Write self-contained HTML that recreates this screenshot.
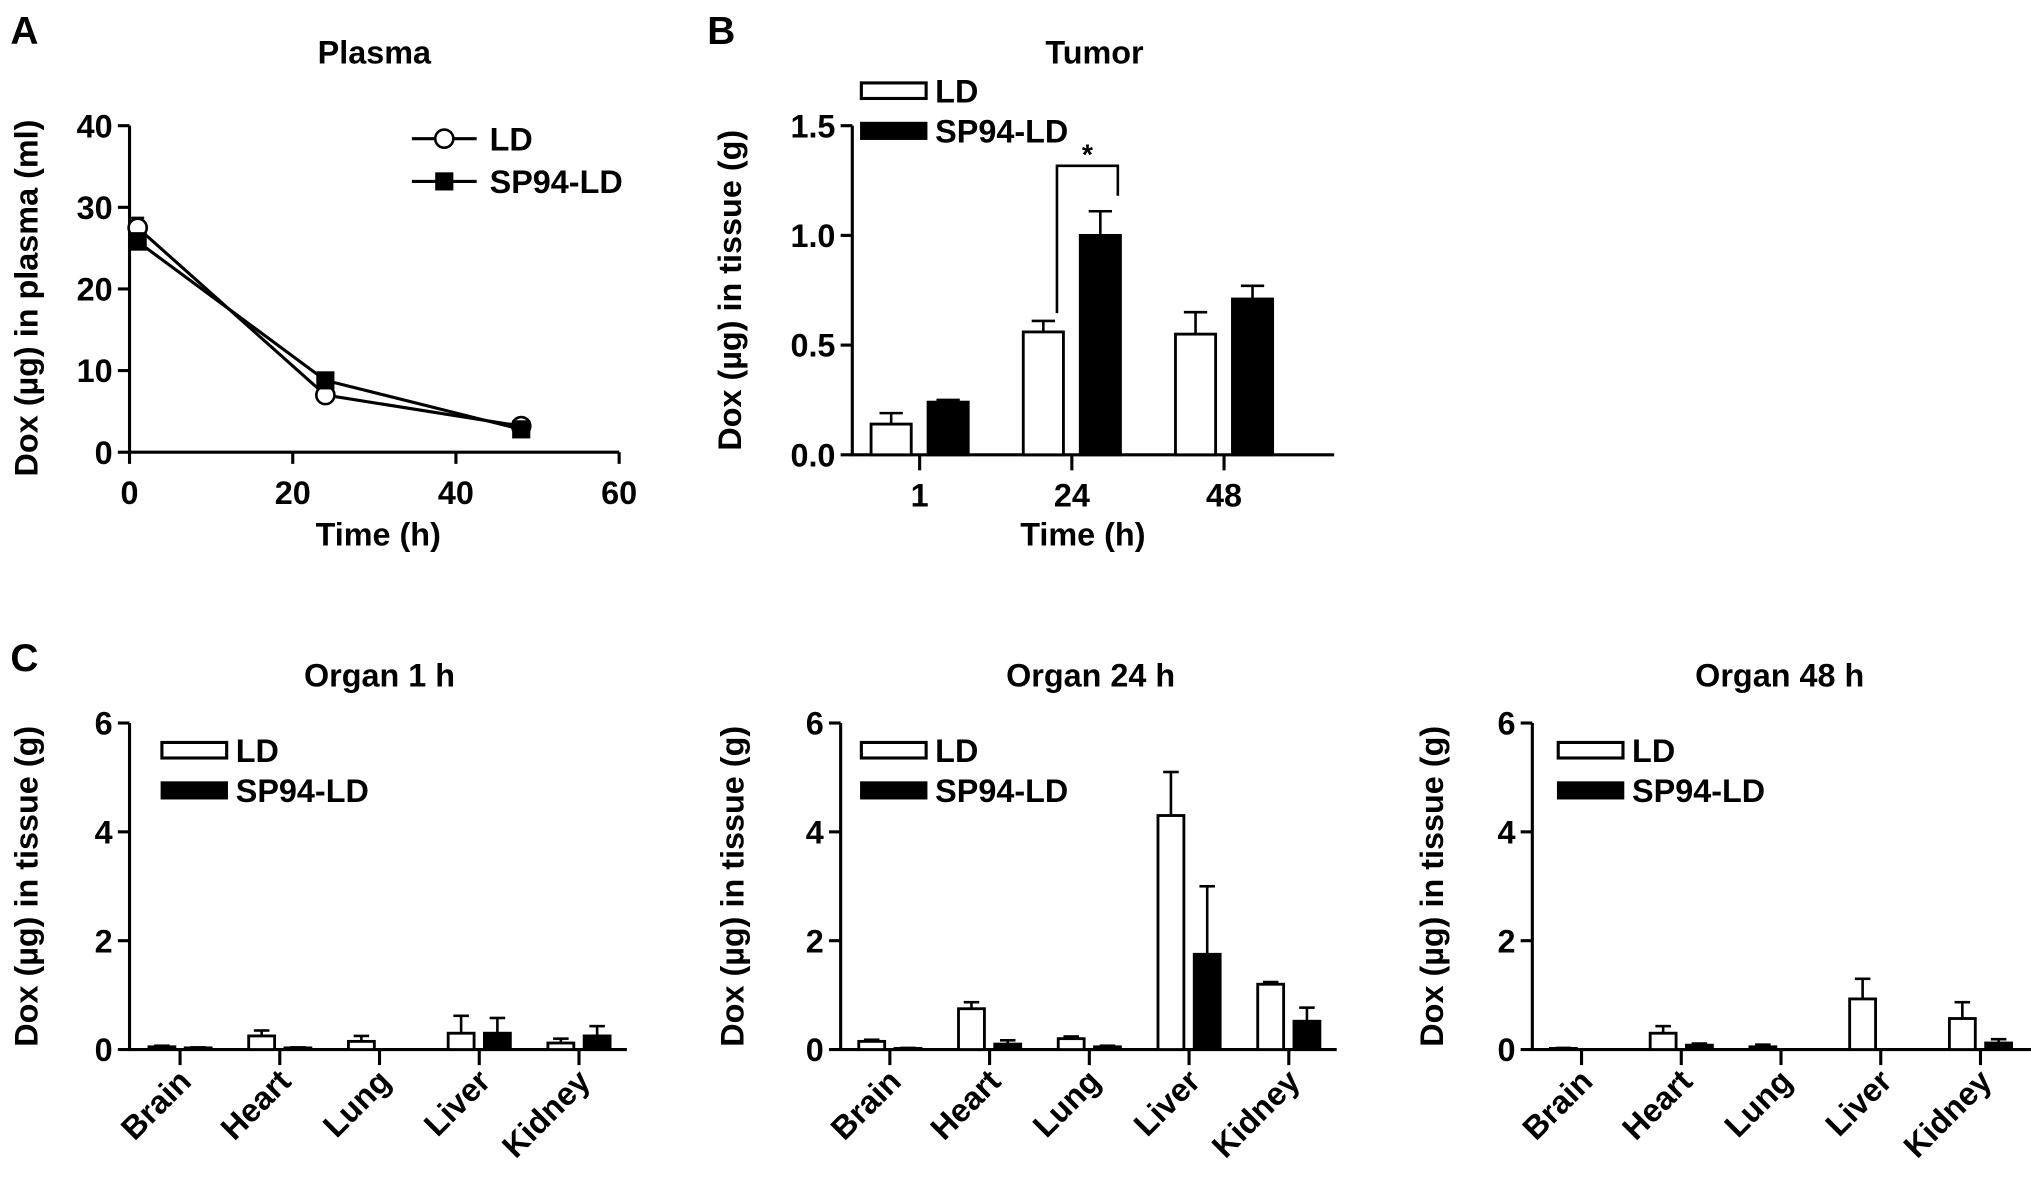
<!DOCTYPE html>
<html><head><meta charset="utf-8"><style>
html,body{margin:0;padding:0;background:#fff;}
svg{display:block;font-family:"Liberation Sans",Arial,sans-serif;font-weight:bold;}
</style></head><body>
<svg id="fig" width="2031" height="1183" viewBox="0 0 1568 913" preserveAspectRatio="none" xmlns="http://www.w3.org/2000/svg"></svg>
<script>
// Panel A data
const plasmaTimes=[1,24,48];
const plasmaLD=[27.5,7.0,3.2];
const plasmaLDErr=[1.2,0.5,0.3];
const plasmaSP=[25.8,8.8,2.8];
const plasmaSPErr=[1.0,0.5,0.3];
const plasmaYTicks=[0,10,20,30,40];
const plasmaXTicks=[0,20,40,60];
// Panel B data
const tumorCats=['1','24','48'];
const tumorLD=[0.14,0.56,0.55];
const tumorLDErr=[0.05,0.05,0.10];
const tumorSP=[0.24,1.0,0.71];
const tumorSPErr=[0.01,0.11,0.06];
const tumorYTicks=['0.0','0.5','1.0','1.5'];
// Panel C data
const organCats=['Brain','Heart','Lung','Liver','Kidney'];
const organYTicks=[0,2,4,6];
const organTitles=['Organ 1 h','Organ 24 h','Organ 48 h'];
const o1LD=[0.05,0.25,0.15,0.3,0.12];
const o1LDErr=[0.02,0.1,0.1,0.32,0.08];
const o1SP=[0.03,0.03,0.0,0.3,0.25];
const o1SPErr=[0.01,0.01,0.0,0.28,0.18];
const o24LD=[0.15,0.75,0.2,4.3,1.2];
const o24LDErr=[0.03,0.12,0.04,0.8,0.04];
const o24SP=[0.02,0.1,0.05,1.75,0.52];
const o24SPErr=[0.01,0.07,0.02,1.25,0.25];
const o48LD=[0.02,0.3,0.05,0.93,0.57];
const o48LDErr=[0.01,0.13,0.04,0.37,0.3];
const o48SP=[0.0,0.08,0.0,0.0,0.12];
const o48SPErr=[0.0,0.03,0.0,0.0,0.07];

const FS=25;
const NS='http://www.w3.org/2000/svg';
const svg=document.getElementById('fig');
function el(tag,attrs,parent,text){const e=document.createElementNS(NS,tag);for(const k in attrs)e.setAttribute(k,attrs[k]);if(text!==undefined)e.textContent=text;(parent||svg).appendChild(e);return e;}
function line(x1,y1,x2,y2,p,w){return el('line',{x1,y1,x2,y2,stroke:'#000','stroke-width':w||2.4},p);}
function txt(x,y,s,size,anchor,p,extra){const a={x,y,'font-size':size,'text-anchor':anchor||'middle',fill:'#000'};Object.assign(a,extra||{});return el('text',a,p,s);}

function letter(x,y,s,name){const t=txt(x,y,s,30,'start');}
letter(8,34,'A','panel-label-a');letter(546,34,'B','panel-label-b');letter(8,518,'C','panel-label-c');

// ---- Panel A
(function(){
 const g=el('g',{});
 
 
 const x0=100,x1=478,y0=349,y1=97;
 const sx=v=>x0+(v-0)/(60-0)*(x1-x0);
 const sy=v=>y0-(v-0)/(40-0)*(y0-y1);
 txt(289,49,'Plasma',FS,'middle',g);
 line(x0,y1,x0,y0+1,g);line(x0-1,y0,x1,y0,g);
 plasmaYTicks.forEach(v=>{line(x0-9,sy(v),x0,sy(v),g);txt(x0-13,sy(v)+9,String(v),FS,'end',g);});
 plasmaXTicks.forEach(v=>{line(sx(v),y0,sx(v),y0+9,g);txt(sx(v),y0+40,String(v),FS,'middle',g);});
 const yt=txt(0,0,'Dox (\u00b5g) in plasma (ml)',FS,'middle',g,{transform:`translate(29,230) rotate(-90)`});
 
 txt(292,421,'Time (h)',FS,'middle',g);
 function series(vals,errs,filled,name){
  const sg=el('g',{},g);
  
  
  el('polyline',{points:plasmaTimes.map((t,i)=>sx(t)+','+sy(vals[i])).join(' '),fill:'none',stroke:'#000','stroke-width':2.4},sg);
  plasmaTimes.forEach((t,i)=>{
   line(sx(t),sy(vals[i]),sx(t),sy(vals[i]+errs[i]),sg,2);
   line(sx(t)-5,sy(vals[i]+errs[i]),sx(t)+5,sy(vals[i]+errs[i]),sg,2);
   if(filled){const r=el('rect',{x:sx(t)-7,y:sy(vals[i])-7,width:14,height:14,fill:'#000'},sg);}
   else{const c=el('circle',{cx:sx(t),cy:sy(vals[i]),r:7,fill:'#fff',stroke:'#000','stroke-width':2},sg);}
  });
 }
 series(plasmaLD,plasmaLDErr,false,'ld-series');
 series(plasmaSP,plasmaSPErr,true,'sp94-ld-series');
 const lg=el('g',{},g);
 
 
 line(318,107,368,107,lg);el('circle',{cx:343,cy:107,r:7,fill:'#fff',stroke:'#000','stroke-width':2},lg);txt(378,116,'LD',FS,'start',lg);
 line(318,140,368,140,lg);el('rect',{x:336,y:133,width:14,height:14,fill:'#000'},lg);txt(378,149,'SP94-LD',FS,'start',lg);
})();

function barChart(o){
 const g=el('g',{});
 
 
 const sy=v=>o.y0-(v-o.ymin)/(o.ymax-o.ymin)*(o.y0-o.y1);
 txt(o.titleX,o.titleY,o.title,FS,'middle',g);
 line(o.x0,o.y1,o.x0,o.y0+1,g);line(o.x0-1,o.y0,o.xEnd,o.y0,g);
 o.yTicks.forEach(v=>{const y=sy(parseFloat(v));line(o.x0-9,y,o.x0,y,g);txt(o.x0-13,y+9,String(v),FS,'end',g);});
 const yt=txt(0,0,'Dox (\u00b5g) in tissue (g)',FS,'middle',g,{transform:`translate(${o.yTitleX},${o.yTitleY}) rotate(-90)`});
 
 o.cats.forEach((c,i)=>{
  const tx=o.tick0+o.tickStep*i;
  line(tx,o.y0,tx,o.y0+12,g);
  if(o.rotate){const t=txt(0,0,c,FS,'end',g,{transform:`translate(${tx+10},${o.y0+26}) rotate(-45)`});}
  else{const t=txt(tx,o.y0+40,c,FS,'middle',g);}
  [[o.ld,o.ldErr,-1,'#fff','bar-ld'],[o.sp,o.spErr,1,'#000','bar-sp94-ld']].forEach(([vals,errs,side,fill,nm])=>{
   const cx=tx+side*o.off, v=vals[i], e=errs[i];
   if(e>0){line(cx,sy(v),cx,sy(v+e),g,2);line(cx-o.cap,sy(v+e),cx+o.cap,sy(v+e),g,2);}
   const h=Math.max(sy(0)-sy(v),0);
   const r=el('rect',{x:cx-o.bw/2,y:sy(v),width:o.bw,height:h,fill:fill,stroke:'#000','stroke-width':2.2},g);
   
   
  });
 });
 if(o.xTitle)txt(o.xTitleX,o.xTitleY,o.xTitle,FS,'middle',g);
 const lg=el('g',{},g);
 
 
 el('rect',{x:o.lgX,y:o.lgY-6,width:50,height:12,fill:'#fff',stroke:'#000','stroke-width':2.4},lg);
 txt(o.lgX+57,o.lgY+9,'LD',FS,'start',lg);
 el('rect',{x:o.lgX-1,y:o.lgY+24,width:52,height:14,fill:'#000'},lg);
 txt(o.lgX+57,o.lgY+40,'SP94-LD',FS,'start',lg);
 return {g,sy};
}

// ---- Panel B
(function(){
 const r=barChart({name:'tumor-chart',x0:658,xEnd:1030,y0:351,y1:97,ymin:0,ymax:1.5,yTicks:tumorYTicks,
  cats:tumorCats,tick0:710,tickStep:117.5,off:22,bw:31,cap:9,ld:tumorLD,ldErr:tumorLDErr,sp:tumorSP,spErr:tumorSPErr,
  title:'Tumor',titleX:845,titleY:49,yTitleX:572,yTitleY:224,xTitle:'Time (h)',xTitleX:836,xTitleY:421,lgX:665,lgY:70});
 const sy=r.sy;const b=el('g',{},r.g);
 
 
 const xa=827-11,xb=827+36,top=128;
 el('polyline',{points:`${xa},${sy(tumorLD[1]+tumorLDErr[1])-6} ${xa},${top} ${xb},${top} ${xb},${sy(tumorSP[1]+tumorSPErr[1])-12}`,fill:'none',stroke:'#000','stroke-width':2},b);
 txt((xa+xb)/2,127,'*',22,'middle',b);
})();

// ---- Panel C
const organSets=[[o1LD,o1LDErr,o1SP,o1SPErr],[o24LD,o24LDErr,o24SP,o24SPErr],[o48LD,o48LDErr,o48SP,o48SPErr]];
const organLayout=[{x0:100,tick0:139,xEnd:484,yt:29,tx:293,lg:125},{x0:649,tick0:687,xEnd:1032,yt:574,tx:842,lg:665},{x0:1183,tick0:1221,xEnd:1568,yt:1114,tx:1374,lg:1203}];
organSets.forEach((s,k)=>{
 const L=organLayout[k];
 barChart({name:'organ-chart-'+k,x0:L.x0,xEnd:L.xEnd,y0:810,y1:558,ymin:0,ymax:6,yTicks:organYTicks,
  cats:organCats,tick0:L.tick0,tickStep:77,off:14,bw:20,cap:6,ld:s[0],ldErr:s[1],sp:s[2],spErr:s[3],rotate:true,
  title:organTitles[k],titleX:L.tx,titleY:530,yTitleX:L.yt,yTitleY:684,lgX:L.lg,lgY:579});
});
</script>
</body></html>
